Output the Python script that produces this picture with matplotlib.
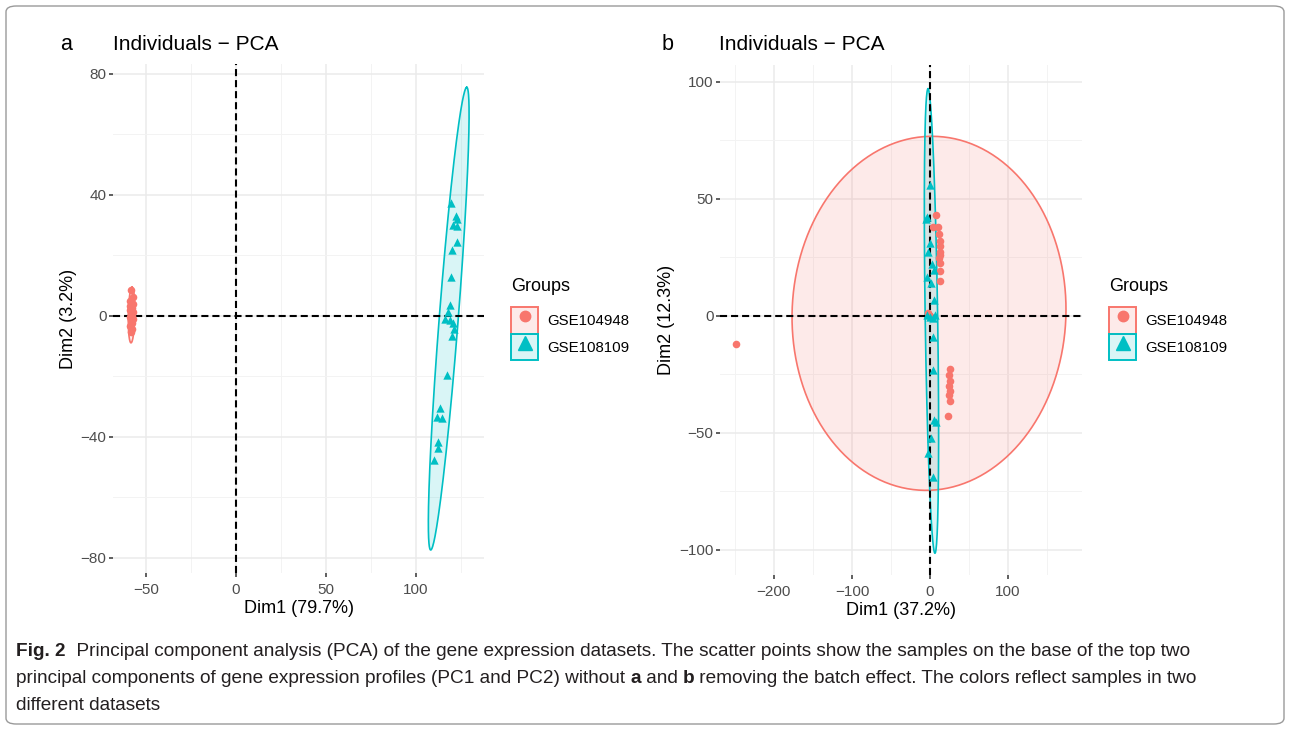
import numpy as np
import matplotlib
matplotlib.use("Agg")
import matplotlib.pyplot as plt
from matplotlib.patches import FancyBboxPatch, Patch
from matplotlib.lines import Line2D
from matplotlib.legend_handler import HandlerTuple

# ---- data: panel a (before batch correction) ----
a_red_x = [-58.3, -57.2, -58.8, -57.4, -58.9, -57.6, -58.7, -57.1, -58.4,
           -57.5, -58.9, -57.3, -58.2, -57.8, -58.6, -57.9, -58.1]
a_red_y = [8.6, 6.2, 5.0, 4.1, 3.3, 2.5, 1.8, 1.2, 0.6,
           0.0, -0.4, -0.9, -1.5, -2.3, -3.2, -4.2, -5.3]
a_cyan_x = [119.3, 122.2, 122.9, 120.7, 122.6, 122.9, 119.8, 119.3, 118.9, 118.0, 116.1,
            118.9, 120.4, 121.1, 119.8, 117.0, 113.3, 111.9, 114.3, 112.4, 112.4, 110.0]
a_cyan_y = [37.3, 33.2, 32.1, 30.1, 29.9, 24.6, 21.8, 13.0, 3.6, 1.4, -1.1,
            -1.3, -2.4, -4.4, -6.6, -19.5, -30.5, -33.3, -33.6, -41.6, -43.7, -47.6]
# ellipse = centre, semi-axis to top point, horizontal half-chord
a_red_ell = [(-58.0, 0.3), (0.3, 9.2), (1.8, 0.0)]
a_cyan_ell = [(118.2, -0.9), (10.0, 76.5), (5.3, 0.0)]

# ---- data: panel b (after batch correction) ----
b_red_x = [-249.0, -3.0, -1.5, 0.0,
           7.8, 4.2, 10.5, 12.0, 13.0, 13.0, 13.0, 12.0, 13.0, 12.5, 13.0, 13.0,
           25.1, 24.4, 25.6, 24.8, 25.3, 24.6, 25.0, 23.5]
b_red_y = [-12.3, 1.0, 0.5, 0.0,
           43.0, 37.8, 37.8, 35.0, 32.0, 29.6, 27.1, 24.7, 22.7, 26.0, 19.0, 14.9,
           -23.0, -25.5, -28.0, -30.0, -32.0, -34.0, -36.5, -42.8]
b_cyan_x = [0.0, -4.3, -5.2, 0.0, -2.1, 2.1, 5.6, -3.4, 0.9, 5.1,
            -4.3, 0.0, 6.4, 4.3, 4.3, 3.4, 5.1, 7.7, 0.9, -2.1, 3.4]
b_cyan_y = [55.8, 42.3, 41.4, 30.9, 27.3, 22.3, 19.5, 16.6, 13.8, 6.6,
            0.2, -0.5, 0.2, -1.2, -9.1, -23.3, -44.7, -45.4, -52.5, -58.9, -68.9]
b_red_ell = [(-1.3, 1.0), (3.9, 75.7), (175.4, 0.0)]
b_cyan_ell = [(1.85, -2.3), (-4.45, 99.3), (8.0, 0.0)]

groups = ["GSE104948", "GSE108109"]
red, cyan = "#F8766D", "#00BFC4"

W, H = 1290, 729
plt.rcParams["font.family"] = ["Liberation Sans", "DejaVu Sans"]
fig = plt.figure(figsize=(W / 100, H / 100), dpi=100)


def fx(px):
    return px / W


def fy(py):
    return 1 - py / H


def ellipse_xy(ell, n=300):
    (cx, cy), u, v = ell
    t = np.linspace(0, 2 * np.pi, n)
    return (cx + u[0] * np.cos(t) + v[0] * np.sin(t),
            cy + u[1] * np.cos(t) + v[1] * np.sin(t))


def panel(box, series, xlim, ylim, xmaj, xmin, ymaj, ymin, xlab, ylab):
    l, t, r, b = box
    ax = fig.add_axes([fx(l), fy(b), fx(r - l), (b - t) / H])
    for x, y, ell, col, mk, s in series:
        ex, ey = ellipse_xy(ell)
        ax.fill(ex, ey, color=col, alpha=0.15, lw=0, zorder=1)
        ax.plot(ex, ey, color=col, lw=1.2, zorder=2)
        ax.scatter(x, y, color=col, marker=mk, s=s, lw=0, zorder=4)
    ax.axhline(0, color="black", lw=1.5, ls=(0, (3.4, 1.9)), zorder=3)
    ax.axvline(0, color="black", lw=1.5, ls=(0, (3.4, 1.9)), zorder=3)
    ax.set_xlim(xlim)
    ax.set_ylim(ylim)
    ax.set_xticks(xmaj)
    ax.set_xticks(xmin, minor=True)
    ax.set_yticks(ymaj)
    ax.set_yticks(ymin, minor=True)
    ax.grid(which="major", color="#EBEBEB", lw=1.1)
    ax.grid(which="minor", color="#F3F3F3", lw=0.7)
    ax.set_axisbelow(True)
    for sp in ax.spines.values():
        sp.set_visible(False)
    ax.tick_params(which="major", length=2.6, width=1.1, color="#333333",
                   labelsize=11, labelcolor="#4D4D4D", pad=2)
    ax.tick_params(axis="x", which="major", pad=4.5)
    ax.tick_params(which="minor", length=0)
    ax.set_xlabel(xlab, fontsize=13, labelpad=2)
    ax.set_ylabel(ylab, fontsize=13, labelpad=3)
    return ax


ax_a = panel((113, 64, 484, 573),
             [(a_red_x, a_red_y, a_red_ell, red, "o", 30),
              (a_cyan_x, a_cyan_y, a_cyan_ell, cyan, "^", 36)],
             (-68.3, 137.8), (-85, 83.3),
             [-50, 0, 50, 100], [-25, 25, 75, 125],
             [-80, -40, 0, 40, 80], [-60, -20, 20, 60],
             "Dim1 (79.7%)", "Dim2 (3.2%)")
ax_b = panel((720, 65, 1081.5, 575),
             [(b_red_x, b_red_y, b_red_ell, red, "o", 30),
              (b_cyan_x, b_cyan_y, b_cyan_ell, cyan, "^", 36)],
             (-269, 194), (-110.9, 107.2),
             [-200, -100, 0, 100], [-250, -150, -50, 50, 150],
             [-100, -50, 0, 50, 100], [-75, -25, 25, 75],
             "Dim1 (37.2%)", "Dim2 (12.3%)")

# panel letters and titles
for letter, lx, tx in [("a", 60, 113), ("b", 662, 719)]:
    fig.text(fx(lx), fy(44), letter, fontsize=15.5, va="center", ha="left")
    fig.text(fx(tx), fy(44), "Individuals \u2212 PCA", fontsize=15, va="center", ha="left")

# legends: filled key box with marker inside
for ax, lx in [(ax_a, 511), (ax_b, 1109)]:
    handles = [(Patch(facecolor=red, alpha=0.15, edgecolor="none"),
                Patch(facecolor="none", edgecolor=red, lw=1.4),
                Line2D([], [], color=red, marker="o", ls="none", ms=7.5)),
               (Patch(facecolor=cyan, alpha=0.15, edgecolor="none"),
                Patch(facecolor="none", edgecolor=cyan, lw=1.4),
                Line2D([], [], color=cyan, marker="^", ls="none", ms=10))]
    leg = fig.legend(handles, groups, title="Groups",
                     handler_map={tuple: HandlerTuple(ndivide=1, pad=0)},
                     loc="upper left", bbox_to_anchor=(fx(lx), fy(278)),
                     frameon=False, fontsize=10.8, title_fontsize=13,
                     handlelength=1.8, handleheight=2.3, handletextpad=0.6,
                     labelspacing=0.05, borderpad=0, borderaxespad=0,
                     alignment="left")
    leg._legend_box.sep = 9

# caption below the panels
caption = [
    [("Fig. 2", "bold"), ("  Principal component analysis (PCA) of the gene expression datasets. "
                          "The scatter points show the samples on the base of the top two", "normal")],
    [("principal components of gene expression profiles (PC1 and PC2) without ", "normal"),
     ("a", "bold"), (" and ", "normal"), ("b", "bold"),
     (" removing the batch effect. The colors reflect samples in two", "normal")],
    [("different datasets", "normal")],
]
renderer = fig.canvas.get_renderer()


def piece_width(text, size, weight):
    # a sentinel bar keeps trailing spaces in the measurement
    probe = fig.text(0, 0, text + "|", fontsize=size, fontweight=weight)
    bar = fig.text(0, 0, "|", fontsize=size, fontweight=weight)
    w = probe.get_window_extent(renderer).width - bar.get_window_extent(renderer).width
    probe.remove()
    bar.remove()
    return w


base = 14
first = sum(piece_width(t, base, w) for t, w in caption[0])
cap_size = base * 1190 / first

for i, line in enumerate(caption):
    x = 16
    y = fy(651 + 27.5 * i)
    for text, weight in line:
        fig.text(fx(x), y, text, fontsize=cap_size, fontweight=weight,
                 color="#231F20", va="center", ha="left")
        x += piece_width(text, cap_size, weight)

# outer frame
fig.patches.append(FancyBboxPatch((fx(6), fy(724)), fx(1278), (718) / H,
                                  boxstyle="round,pad=0,rounding_size=0.008",
                                  transform=fig.transFigure, fill=False,
                                  edgecolor="#9A9A9A", lw=1.0))

fig.savefig("out.png", dpi=100)
